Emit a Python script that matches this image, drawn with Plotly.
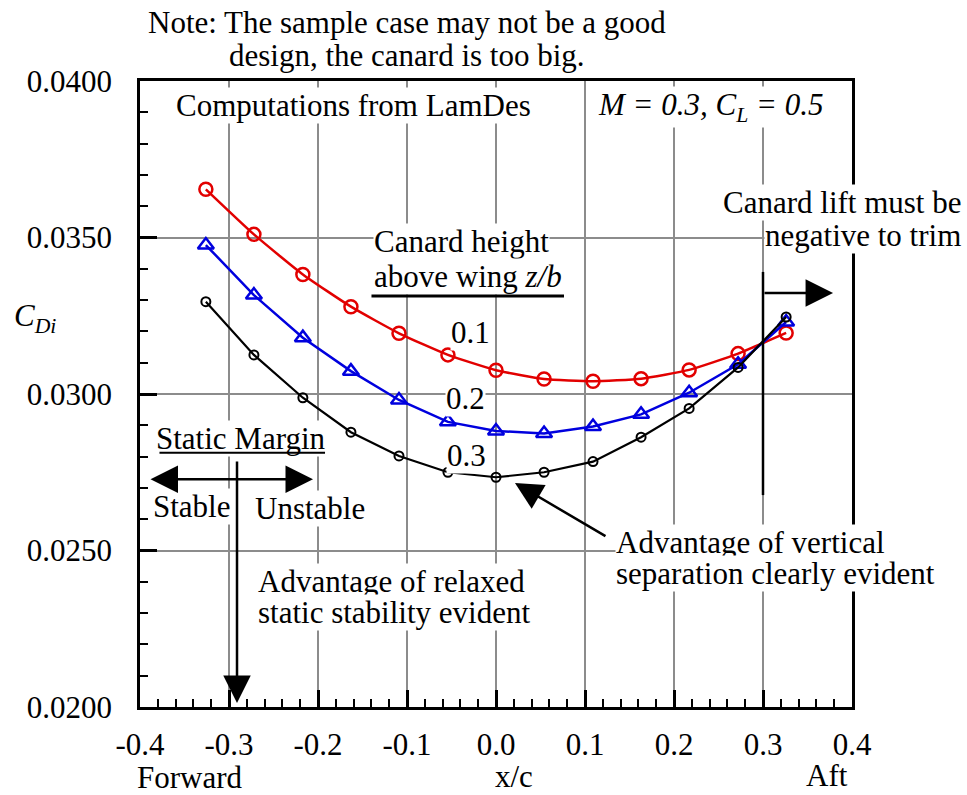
import plotly.graph_objects as go

# Canard position along the wing chord (x/c) and induced drag for three canard heights
x_c = [-0.326, -0.272, -0.217, -0.163, -0.109, -0.054, 0.0, 0.054, 0.109, 0.163, 0.217, 0.272, 0.326]
cdi_zb_01 = [0.03654, 0.03510, 0.03382, 0.03279, 0.03194, 0.03125, 0.03076,
             0.03048, 0.03041, 0.03049, 0.03077, 0.03129, 0.03195]
cdi_zb_02 = [0.03476, 0.03316, 0.03180, 0.03073, 0.02981, 0.02911, 0.02882,
             0.02874, 0.02896, 0.02935, 0.03004, 0.03095, 0.03230]
cdi_zb_03 = [0.03295, 0.03125, 0.02988, 0.02878, 0.02802, 0.02750, 0.02734,
             0.02750, 0.02784, 0.02862, 0.02954, 0.03085, 0.03246]

x_ticks = [-0.4, -0.3, -0.2, -0.1, 0.0, 0.1, 0.2, 0.3, 0.4]
x_tick_labels = ["-0.4", "-0.3", "-0.2", "-0.1", "0.0", "0.1", "0.2", "0.3", "0.4"]
y_ticks = [0.020, 0.025, 0.030, 0.035, 0.040]
y_tick_labels = ["0.0200", "0.0250", "0.0300", "0.0350", "0.0400"]

FONT = "Liberation Serif"
SIZE = 31
RED = "rgb(226,0,0)"
BLUE = "rgb(0,0,222)"
GRID = "#8c8c8c"

fig = go.Figure()
fig.add_trace(go.Scatter(
    x=x_c, y=cdi_zb_01, mode="lines+markers", line=dict(color=RED, width=2.5, shape="spline", smoothing=0.5),
    marker=dict(symbol="circle-open", size=13, color=RED, line=dict(width=2.5, color=RED)),
    showlegend=False, cliponaxis=False))
fig.add_trace(go.Scatter(
    x=x_c, y=cdi_zb_02, mode="lines+markers", line=dict(color=BLUE, width=2.5),
    marker=dict(symbol="triangle-up-open", size=14, color=BLUE, line=dict(width=2.5, color=BLUE)),
    showlegend=False, cliponaxis=False))
fig.add_trace(go.Scatter(
    x=x_c, y=cdi_zb_03, mode="lines+markers", line=dict(color="black", width=2.2),
    marker=dict(symbol="circle-open", size=9, color="black", line=dict(width=2, color="black")),
    showlegend=False, cliponaxis=False))


def label(x, y, text, xanchor="center", bg=True, size=SIZE, xref="x", yref="y"):
    return dict(x=x, y=y, xref=xref, yref=yref, text=text, showarrow=False,
                xanchor=xanchor, yanchor="middle", borderpad=0,
                font=dict(family=FONT, size=size, color="black"),
                bgcolor="white" if bg else "rgba(0,0,0,0)")


def arrow(x0, y0, x1, y1, head=2, both=False, width=2.5, size=2.2):
    a = dict(x=x1, y=y1, ax=x0, ay=y0, xref="x", yref="y", axref="x", ayref="y",
             text="", showarrow=True, arrowhead=head, arrowsize=size, arrowwidth=width,
             arrowcolor="black", standoff=0, startstandoff=0)
    if both:
        a.update(arrowside="end+start", startarrowhead=head, startarrowsize=size)
    return a


annotations = [
    # header note above the frame
    label(0.375, 1.0942, "Note: The sample case may not be a good", bg=False, xref="paper", yref="paper"),
    label(0.375, 1.0415, "design, the canard is too big.", bg=False, xref="paper", yref="paper"),
    # boxed captions inside the frame
    label(-0.361, 0.03922, "Computations from LamDes", xanchor="left"),
    label(0.1135, 0.03917, "<i>M = 0.3, C<sub>L</sub> = 0.5</i>", xanchor="left"),
    label(1.1545, 0.03613, "Canard lift must be", xanchor="right", xref="paper"),
    label(1.1545, 0.03508, "negative to trim", xanchor="right", xref="paper"),
    label(-0.0393, 0.03486, "Canard height"),
    label(-0.0315, 0.03374, "above wing <i>z/b</i>"),
    label(-0.0292, 0.03195, "0.1"),
    label(-0.0348, 0.02987, "0.2"),
    label(-0.0337, 0.02805, "0.3"),
    label(-0.286, 0.02858, "Static Margin"),
    label(-0.342, 0.02642, "Stable"),
    label(-0.209, 0.02633, "Unstable"),
    label(-0.2685, 0.02400, "Advantage of relaxed", xanchor="left"),
    label(-0.2685, 0.02301, "static stability evident", xanchor="left"),
    label(0.1337, 0.02527, "Advantage of vertical", xanchor="left"),
    label(0.1337, 0.02428, "separation clearly evident", xanchor="left"),
    # axis captions
    label(-0.3438, -0.1134, "Forward", bg=False, yref="paper"),
    label(0.0202, -0.1118, "x/c", bg=False, yref="paper"),
    label(0.372, -0.1102, "Aft", bg=False, yref="paper"),
    label(-0.1784, 0.03243, "<i>C<sub>Di</sub></i>", xanchor="left", bg=False, xref="paper"),
    # underlines
    arrow(-0.1416, 0.03313, 0.0764, 0.03313, head=0, width=3),
    arrow(-0.3798, 0.02812, -0.1921, 0.02812, head=0, width=2),
    # arrows
    arrow(-0.3899, 0.02728, -0.2056, 0.02728, both=True),
    arrow(-0.291, 0.02789, -0.291, 0.02013),
    arrow(0.1247, 0.02543, 0.0213, 0.02716),
    arrow(0.3, 0.03323, 0.3787, 0.03323),
]

shapes = [
    dict(type="line", xref="x", yref="y", x0=0.3, x1=0.3, y0=0.02677, y1=0.0339,
         line=dict(color="black", width=2.5), layer="above"),
]

axis_common = dict(
    showline=True, linecolor="black", linewidth=2.5, mirror=True,
    showgrid=True, gridcolor=GRID, gridwidth=2, zeroline=False,
    ticks="inside", tickcolor="black", tickwidth=2.5, ticklen=17,
    tickfont=dict(family=FONT, size=SIZE, color="black"),
)

fig.update_layout(
    width=967, height=795,
    margin=dict(l=140, r=115, t=81, b=88),
    paper_bgcolor="white", plot_bgcolor="white",
    xaxis=dict(range=[-0.4, 0.4], tickmode="array", tickvals=x_ticks, ticktext=x_tick_labels,
               ticklabelstandoff=8,
               minor=dict(dtick=0.02, ticks="inside", ticklen=8, tickwidth=2, tickcolor="black", showgrid=False),
               **axis_common),
    yaxis=dict(range=[0.02, 0.04], tickmode="array", tickvals=y_ticks, ticktext=y_tick_labels,
               ticklabelstandoff=19,
               minor=dict(dtick=0.001, ticks="inside", ticklen=8, tickwidth=2, tickcolor="black", showgrid=False),
               **axis_common),
    annotations=annotations,
    shapes=shapes,
)

fig.write_html("out.html")
